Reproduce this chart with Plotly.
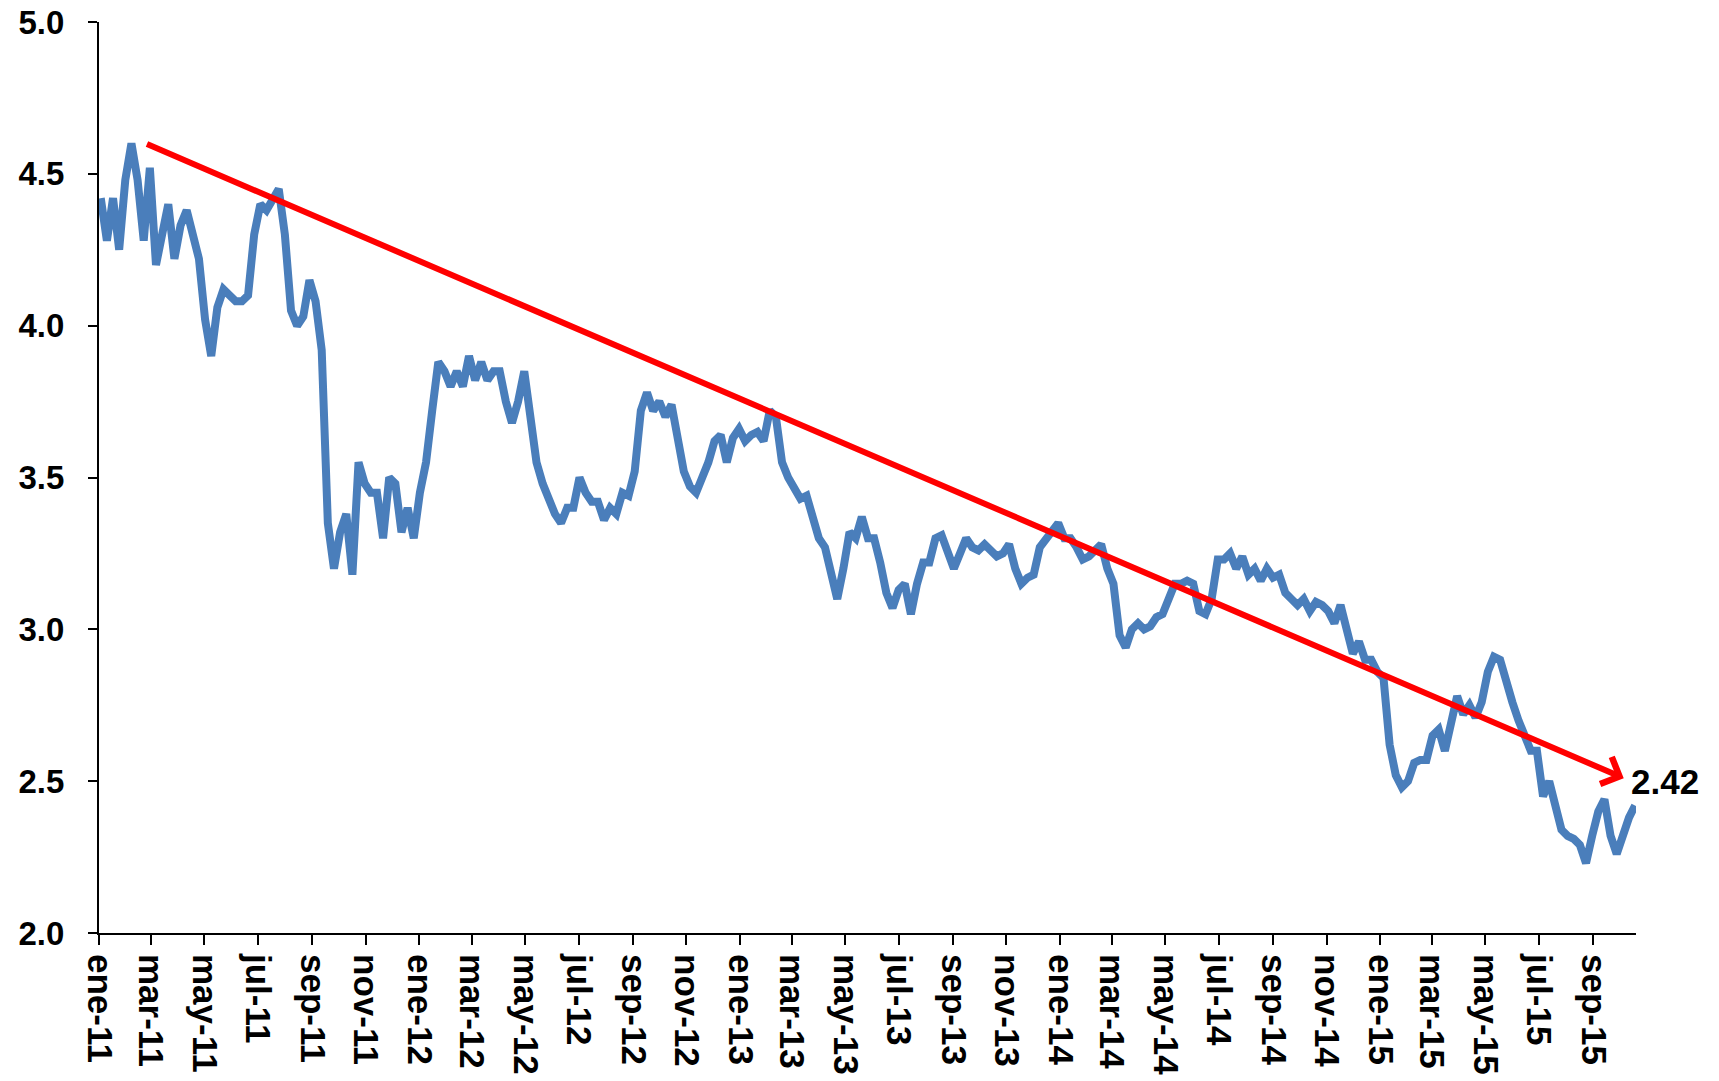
import plotly.graph_objects as go
import pandas as pd

# Weekly readings (Mondays) starting 2011-01-03
start_date = "2011-01-03"
values = [
    4.42, 4.28, 4.42, 4.25, 4.48, 4.60, 4.48, 4.28, 4.52, 4.20,
    4.30, 4.40, 4.22, 4.33, 4.38, 4.30, 4.22, 4.02, 3.90, 4.06,
    4.12, 4.10, 4.08, 4.08, 4.10, 4.30, 4.40, 4.38, 4.42, 4.45,
    4.30, 4.05, 4.00, 4.03, 4.15, 4.08, 3.92, 3.35, 3.20, 3.32,
    3.38, 3.18, 3.55, 3.48, 3.45, 3.45, 3.30, 3.50, 3.48, 3.32,
    3.40, 3.30, 3.45, 3.55, 3.72, 3.88, 3.85, 3.80, 3.85, 3.80,
    3.90, 3.82, 3.88, 3.82, 3.85, 3.85, 3.75, 3.68, 3.75, 3.85,
    3.70, 3.55, 3.48, 3.42, 3.38, 3.35, 3.40, 3.40, 3.50, 3.45,
    3.42, 3.42, 3.36, 3.40, 3.38, 3.45, 3.44, 3.52, 3.72, 3.78,
    3.72, 3.75, 3.70, 3.74, 3.62, 3.52, 3.47, 3.45, 3.50, 3.55,
    3.62, 3.64, 3.55, 3.63, 3.66, 3.62, 3.64, 3.65, 3.62, 3.72,
    3.70, 3.55, 3.50, 3.47, 3.43, 3.44, 3.38, 3.30, 3.27, 3.17,
    3.10, 3.20, 3.32, 3.30, 3.37, 3.30, 3.30, 3.22, 3.12, 3.07,
    3.13, 3.15, 3.05, 3.15, 3.22, 3.22, 3.30, 3.31, 3.25, 3.20,
    3.25, 3.30, 3.27, 3.26, 3.28, 3.26, 3.24, 3.25, 3.28, 3.20,
    3.15, 3.17, 3.18, 3.27, 3.30, 3.32, 3.35, 3.30, 3.30, 3.27,
    3.23, 3.24, 3.26, 3.28, 3.20, 3.15, 2.98, 2.94, 3.00, 3.02,
    3.00, 3.01, 3.04, 3.05, 3.10, 3.15, 3.15, 3.16, 3.15, 3.06,
    3.05, 3.10, 3.23, 3.23, 3.25, 3.20, 3.24, 3.18, 3.20, 3.16,
    3.20, 3.17, 3.18, 3.12, 3.10, 3.08, 3.10, 3.06, 3.09, 3.08,
    3.06, 3.02, 3.08, 3.00, 2.92, 2.96, 2.90, 2.90, 2.86, 2.84,
    2.62, 2.52, 2.48, 2.50, 2.56, 2.57, 2.57, 2.65, 2.67, 2.60,
    2.70, 2.78, 2.72, 2.75, 2.71, 2.76, 2.86, 2.91, 2.90, 2.82,
    2.76, 2.70, 2.65, 2.60, 2.60, 2.45, 2.50, 2.42, 2.34, 2.32,
    2.31, 2.29, 2.23, 2.32, 2.40, 2.44, 2.32, 2.26, 2.33, 2.38,
    2.42,
]
dates = pd.date_range(start_date, periods=len(values), freq="7D")

tick_dates = [
    "2011-01-01", "2011-03-01", "2011-05-01", "2011-07-01", "2011-09-01", "2011-11-01",
    "2012-01-01", "2012-03-01", "2012-05-01", "2012-07-01", "2012-09-01", "2012-11-01",
    "2013-01-01", "2013-03-01", "2013-05-01", "2013-07-01", "2013-09-01", "2013-11-01",
    "2014-01-01", "2014-03-01", "2014-05-01", "2014-07-01", "2014-09-01", "2014-11-01",
    "2015-01-01", "2015-03-01", "2015-05-01", "2015-07-01", "2015-09-01",
]
tick_labels = [
    "ene-11", "mar-11", "may-11", "jul-11", "sep-11", "nov-11",
    "ene-12", "mar-12", "may-12", "jul-12", "sep-12", "nov-12",
    "ene-13", "mar-13", "may-13", "jul-13", "sep-13", "nov-13",
    "ene-14", "mar-14", "may-14", "jul-14", "sep-14", "nov-14",
    "ene-15", "mar-15", "may-15", "jul-15", "sep-15",
]

trend_start = ("2011-02-23", 4.60)
trend_end = ("2015-10-06", 2.51)
last_label = "2.42"
label_pos = ("2015-10-12", 2.50)

FONT = "Liberation Sans, Arial, sans-serif"

fig = go.Figure()
fig.add_trace(go.Scatter(
    x=dates, y=values, mode="lines",
    line=dict(color="#4A7EBB", width=8),
    hoverinfo="skip", showlegend=False,
))

fig.add_annotation(
    x=trend_end[0], y=trend_end[1], xref="x", yref="y",
    ax=trend_start[0], ay=trend_start[1], axref="x", ayref="y",
    showarrow=True, arrowhead=4, arrowsize=0.95, arrowwidth=6,
    arrowcolor="#FF0000", text="",
)
fig.add_annotation(
    x=label_pos[0], y=label_pos[1], xref="x", yref="y",
    text=last_label, showarrow=False, xanchor="left", yanchor="middle",
    font=dict(family=FONT, size=35, color="black", weight="bold"),
)

fig.update_layout(
    width=1719, height=1081,
    margin=dict(l=99, r=83, t=22, b=148),
    paper_bgcolor="white", plot_bgcolor="white",
    showlegend=False,
)
fig.update_xaxes(
    type="date", range=["2011-01-01", "2015-10-20"], automargin=False,
    tickmode="array", tickvals=tick_dates, ticktext=tick_labels,
    tickangle=90, ticks="outside", ticklen=10, tickwidth=2, tickcolor="black",
    showline=True, linecolor="black", linewidth=2, showgrid=False, zeroline=False,
    tickfont=dict(family=FONT, size=35, color="black", weight="bold"),
    ticklabelstandoff=2, ticklabeloverflow="allow",
)
fig.update_yaxes(
    range=[2.0, 5.0], dtick=0.5, tick0=2.0, tickformat=".1f", automargin=False,
    ticks="outside", ticklen=9, tickwidth=2, tickcolor="black",
    showline=True, linecolor="black", linewidth=2, showgrid=False, zeroline=False,
    tickfont=dict(family=FONT, size=33, color="black", weight="bold"),
    ticklabelstandoff=17, ticklabeloverflow="allow",
)

fig.write_html(
    "out.html",
    config={"displayModeBar": False},
    post_script="document.body.style.margin='0px'; document.body.style.overflow='hidden';",
)
